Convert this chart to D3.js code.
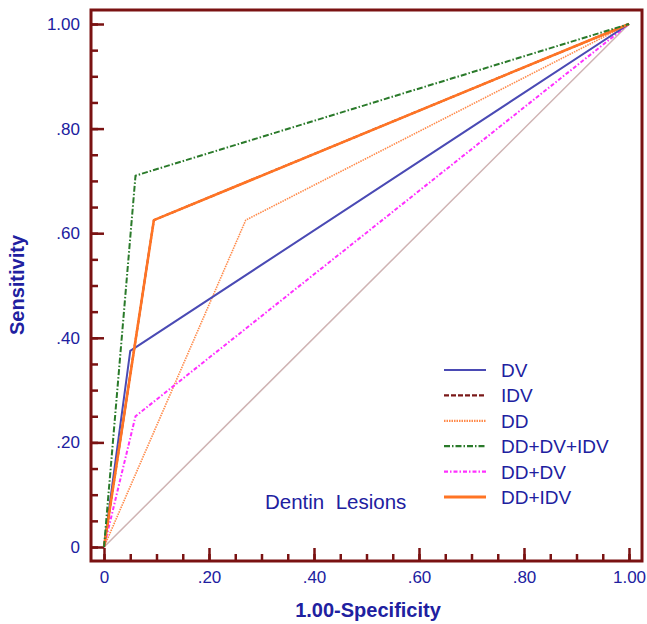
<!DOCTYPE html>
<html>
<head>
<meta charset="utf-8">
<script src="https://cdn.jsdelivr.net/npm/d3@7"></script>
<style>
  body { margin: 0; background: #fff; }
  svg { display: block; font-family: "Liberation Sans", Arial, sans-serif; }
</style>
</head>
<body>
<svg id="chart" width="647" height="624"></svg>
<script>
// ROC curves, one knee point per test
const seriesNames = ["DV", "IDV", "DD", "DD+DV+IDV", "DD+DV", "DD+IDV"];
const kneeFpr = [0.05, 0.095, 0.27, 0.06, 0.06, 0.095];
const kneeTpr = [0.375, 0.625, 0.625, 0.71, 0.25, 0.625];
const majorTicks = [0, 0.2, 0.4, 0.6, 0.8, 1.0];
const tickLabels = ["0", ".20", ".40", ".60", ".80", "1.00"];
const minorTicks = d3.range(0, 1.0001, 0.05);

const styles = {
  "DV": { color: "#4a4ab4", dash: null, w: 2 },
  "IDV": { color: "#7a1818", dash: "5,2", w: 2 },
  "DD": { color: "#ff8a4a", dash: "1.5,1", w: 1.6 },
  "DD+DV+IDV": { color: "#2a7a2a", dash: "6,2,1.5,2", w: 2 },
  "DD+DV": { color: "#ff30ff", dash: "4,2,1.5,2", w: 2 },
  "DD+IDV": { color: "#ff7424", dash: null, w: 2.6 }
};
const drawOrder = ["DD", "DD+DV", "DV", "IDV", "DD+IDV", "DD+DV+IDV"];

const frameColor = "#7a1212";
const textColor = "#2020a0";

const svg = d3.select("#chart");
const frame = { left: 91, top: 10, right: 642, bottom: 561 };

const x = d3.scaleLinear().domain([0, 1]).range([104, 629]);
const y = d3.scaleLinear().domain([0, 1]).range([547, 24]);

// frame
svg.append("rect")
  .attr("x", frame.left).attr("y", frame.top)
  .attr("width", frame.right - frame.left)
  .attr("height", frame.bottom - frame.top)
  .attr("fill", "none")
  .attr("stroke", frameColor)
  .attr("stroke-width", 3);

// inward ticks
function tickAxis(axis, size, values) {
  return axis.tickValues(values).tickSize(size).tickSizeOuter(0).tickFormat("");
}
const styleTicks = (g) => {
  g.select(".domain").remove();
  g.selectAll("line").attr("stroke", frameColor).attr("stroke-width", 2.5);
};

svg.append("g").attr("transform", `translate(${frame.left},0)`)
  .call(tickAxis(d3.axisRight(y), 7, minorTicks)).call(styleTicks);
svg.append("g").attr("transform", `translate(${frame.left},0)`)
  .call(tickAxis(d3.axisRight(y), 13, majorTicks)).call(styleTicks);
svg.append("g").attr("transform", `translate(0,${frame.bottom})`)
  .call(tickAxis(d3.axisTop(x), 7, minorTicks)).call(styleTicks);
svg.append("g").attr("transform", `translate(0,${frame.bottom})`)
  .call(tickAxis(d3.axisTop(x), 13, majorTicks)).call(styleTicks);

// tick labels
const yLab = svg.append("g").attr("transform", `translate(${frame.left},0)`)
  .call(d3.axisLeft(y).tickValues(majorTicks).tickSize(0).tickPadding(11)
    .tickFormat((d, i) => tickLabels[i]));
yLab.select(".domain").remove();
yLab.selectAll("text").attr("font-size", 17).attr("fill", textColor)
  .attr("font-family", "Liberation Sans, Arial, sans-serif");

const xLab = svg.append("g").attr("transform", `translate(0,${frame.bottom})`)
  .call(d3.axisBottom(x).tickValues(majorTicks).tickSize(0).tickPadding(10)
    .tickFormat((d, i) => tickLabels[i]));
xLab.select(".domain").remove();
xLab.selectAll("text").attr("font-size", 17).attr("fill", textColor)
  .attr("font-family", "Liberation Sans, Arial, sans-serif");

// axis titles
svg.append("text")
  .attr("x", 368).attr("y", 617)
  .attr("text-anchor", "middle")
  .attr("font-size", 20).attr("font-weight", "bold")
  .attr("fill", textColor)
  .text("1.00-Specificity");

svg.append("text")
  .attr("transform", "translate(24,285) rotate(-90)")
  .attr("text-anchor", "middle")
  .attr("font-size", 20).attr("font-weight", "bold")
  .attr("fill", textColor)
  .text("Sensitivity");

// chance diagonal
const line = d3.line().x((d) => x(d[0])).y((d) => y(d[1]));
svg.append("path")
  .attr("d", line([[0, 0], [1, 1]]))
  .attr("fill", "none")
  .attr("stroke", "#cfb3b3")
  .attr("stroke-width", 1.5);

// ROC curves
const curves = seriesNames.map((name, i) => ({
  name,
  points: [[0, 0], [kneeFpr[i], kneeTpr[i]], [1, 1]]
}));
const byName = new Map(curves.map((c) => [c.name, c]));

svg.append("g")
  .selectAll("path")
  .data(drawOrder.map((n) => byName.get(n)))
  .join("path")
  .attr("d", (d) => line(d.points))
  .attr("fill", "none")
  .attr("stroke", (d) => styles[d.name].color)
  .attr("stroke-width", (d) => styles[d.name].w)
  .attr("stroke-dasharray", (d) => styles[d.name].dash)
  .attr("stroke-linejoin", "round");

// legend
const legend = svg.append("g").attr("transform", "translate(444,370)");
const rows = legend.selectAll("g")
  .data(seriesNames)
  .join("g")
  .attr("transform", (d, i) => `translate(0,${i * 25.4})`);
rows.append("line")
  .attr("x1", 0).attr("x2", 42)
  .attr("stroke", (d) => styles[d].color)
  .attr("stroke-width", (d) => (d === "DD+IDV" ? 2.8 : 2.2))
  .attr("stroke-dasharray", (d) => styles[d].dash);
rows.append("text")
  .attr("x", 57).attr("y", 7)
  .attr("font-size", 19)
  .attr("fill", textColor)
  .text((d) => d);

svg.append("text")
  .attr("x", 265).attr("y", 509)
  .attr("font-size", 20.5)
  .attr("fill", textColor)
  .style("white-space", "pre")
  .text("Dentin  Lesions");
</script>
</body>
</html>
